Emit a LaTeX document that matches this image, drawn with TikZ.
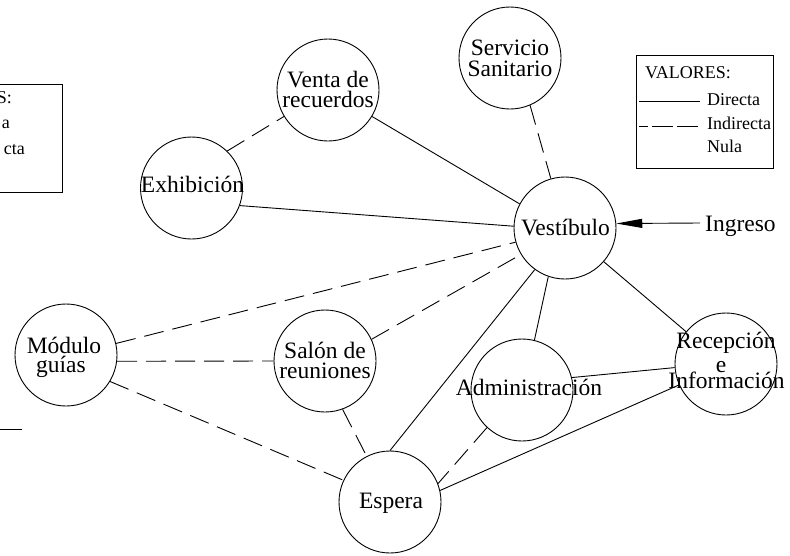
\documentclass[tikz,border=0pt]{standalone}
\usepackage{fontspec}
\setmainfont{Liberation Serif}
\usetikzlibrary{arrows.meta}
\begin{document}
\begin{tikzpicture}[x=1pt,y=-1pt,
  room/.style={circle,draw,line width=0.9pt,minimum size=102pt,inner sep=0pt},
  txt/.style={font=\fontsize{23.5}{21}\selectfont,inner sep=0pt,anchor=base},
  lg/.style={font=\fontsize{18}{20}\selectfont,inner sep=0pt,anchor=base west},
  lgr/.style={font=\fontsize{18}{20}\selectfont,inner sep=0pt,anchor=base east},
  dir/.style={line width=0.9pt},
  ind/.style={line width=0.9pt,dash pattern=on 20pt off 9pt}]
\useasboundingbox (0,0) rectangle (790,555);

% rooms
\node[room] (ven) at (328,90) {};
\node[room] (ser) at (510,58) {};
\node[room] (exh) at (191.5,188) {};
\node[room] (ves) at (565,228) {};
\node[room] (mod) at (66,355) {};
\node[room] (sal) at (325,361) {};
\node[room] (adm) at (522,390) {};
\node[room] (rec) at (726,364) {};
\node[room] (esp) at (390,502) {};

% texts
\node[txt] (venA) at (328,87) {Venta de};
\node[txt] (venB) at (328,107) {recuerdos};
\node[txt] (serA) at (510,55) {Servicio};
\node[txt] (serB) at (510,76) {Sanitario};
\node[txt] (exhA) at (192.5,192) {Exhibición};
\node[txt] (vesA) at (565.5,235) {Vestíbulo};
\node[txt] (modA) at (64,353) {Módulo};
\node[txt] (modB) at (61,372) {guías};
\node[txt] (salA) at (325,358) {Salón de};
\node[txt] (salB) at (325,378) {reuniones};
\node[txt] (admA) at (529,395) {Administración};
\node[txt] (recA) at (726,348) {Recepción};
\node[txt] (recB) at (721,372) {e};
\node[txt] (recC) at (726.5,388) {Información};
\node[txt] (espA) at (391,508) {Espera};

% connectors
\draw[ind] (exh.46) -- (ven.211.5);
\draw[dir] (ven.-31) -- (ves.152);
\draw[ind] (ser.-67.8) -- (ves.106);
\draw[dir] (exh.-20.6) -- (ves.178);
\draw[ind] (mod.13) -- (ves.196.7);
\draw[ind] (sal.25) -- (ves.211);
\draw[dir] (esp.90) -- (ves.234.6);
\draw[dir] (ves.251) -- (adm.76);
\draw[dir] (ves.-41) -- (rec.141);
\draw[ind] (mod.-7) -- (sal.180);
\draw[ind] (mod.-31) -- (esp.155);
\draw[ind] (sal.-70) -- (esp.117);
\draw[ind] (adm.227) -- (esp.21.6);
\draw[dir] (adm.14) -- (rec.184.5);
\draw[dir] (esp.13.5) -- (rec.204);

% entrance
\coordinate (ing) at (700,223);
\draw[dir,-{Triangle[length=26pt,width=9pt]}] (ing) -- (ves.5.6);
\node[txt,anchor=base west] (ingT) at (705,231) {Ingreso};

% legend
\draw[line width=0.9pt] (636,55) rectangle (773,168);
\node[lg] (lgT) at (645,78) {VALORES:};
\draw[dir] (639,101) -- (700,101);
\node[lg] (lgD) at (707,105) {Directa};
\draw[line width=0.9pt,dash pattern=on 21pt off 4pt,dash phase=12pt] (639,126) -- (700,126);
\node[lg] (lgI) at (707,129) {Indirecta};
\node[lg] (lgN) at (707,152) {Nula};

% partial legend at left edge
\draw[line width=0.9pt] (-90,84) rectangle (62,192);
\node[lgr] (plT) at (12,103) {S:};
\node[lgr] (plD) at (10,128) {a};
\node[lgr] (plI) at (25,154) {cta};
\draw[dir] (0,429) -- (22,429);
\end{tikzpicture}
\end{document}
